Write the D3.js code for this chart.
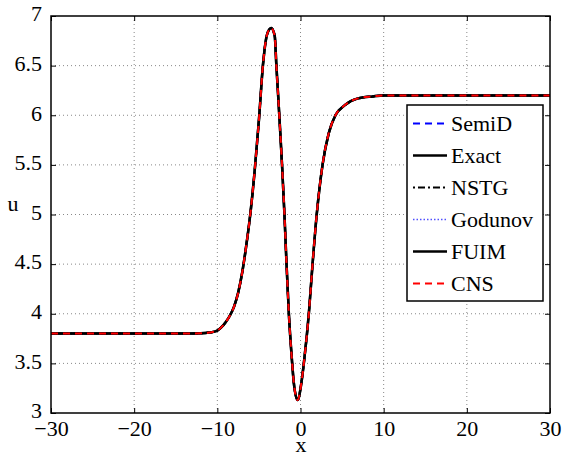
<!DOCTYPE html>
<html><head><meta charset="utf-8">
<script src="https://cdn.jsdelivr.net/npm/d3@7"></script>
<style>body{margin:0;background:#fff}svg{display:block}svg text{font-family:"Liberation Serif","Times New Roman",serif !important}</style>
</head><body>
<svg id="chart" width="564" height="458"></svg>
<script>
// ---- data ----
const xData = [-30,-20,-14,-12,-11,-10,-9.5,-9,-8.5,-8,-7.5,-7,-6.5,-6,-5.5,-5,-4.5,-4.0,-3.52,-3.1,-2.9,-2.55,-2.22,-1.93,-1.68,-1.4,-1.0,-0.8,-0.35,0.1,0.4,1.0,1.45,1.95,2.65,3.4,4.2,5.3,6.9,8.7,10,12,30];
const uData = [3.8,3.8,3.8,3.803,3.81,3.83,3.865,3.915,3.98,4.07,4.21,4.42,4.7,5.03,5.45,5.95,6.52,6.82,6.88,6.8,6.5,6.0,5.5,5.0,4.5,4.0,3.5,3.3,3.13,3.3,3.5,4.0,4.5,5.0,5.5,5.82,6.0,6.1,6.17,6.19,6.2,6.2,6.2];
const seriesNames = ["SemiD","Exact","NSTG","Godunov","FUIM","CNS"];
const seriesU = {SemiD:uData, Exact:uData, NSTG:uData, Godunov:uData, FUIM:uData, CNS:uData};
const xTicks = [-30,-20,-10,0,10,20,30];
const yTicks = [3,3.5,4,4.5,5,5.5,6,6.5,7];

// ---- styles ----
const styles = {
  SemiD:{color:"#0000ff",dash:"7,5",w:2},
  Exact:{color:"#000",dash:null,w:2.5},
  NSTG:{color:"#000",dash:"2,3,7,3",w:2},
  Godunov:{color:"#5050ff",dash:"1.5,2",w:1.5},
  FUIM:{color:"#000",dash:null,w:2.5},
  CNS:{color:"#ff0000",dash:"7,5",w:2}
};

const L=51,R=550,T=16,B=413;
const FS=22;
const svg=d3.select("#chart");
const x=d3.scaleLinear().domain([-30,30]).range([L,R]);
const y=d3.scaleLinear().domain([3,7]).range([B,T]);

// grid
const g=svg.append("g");
g.selectAll("line.gx").data(xTicks.filter(d=>d>-30&&d<30)).enter().append("line")
 .attr("x1",d=>x(d)).attr("x2",d=>x(d)).attr("y1",T).attr("y2",B)
 .attr("stroke","#888").attr("stroke-width",1).attr("stroke-dasharray","1,3");
g.selectAll("line.gy").data(yTicks.filter(d=>d>3&&d<7)).enter().append("line")
 .attr("y1",d=>y(d)).attr("y2",d=>y(d)).attr("x1",L).attr("x2",R)
 .attr("stroke","#888").attr("stroke-width",1).attr("stroke-dasharray","1,3");

// axes (inward ticks on all sides)
const ax=svg.append("g");
ax.append("g").attr("transform",`translate(0,${B})`).call(d3.axisBottom(x).tickValues(xTicks).tickSize(-5).tickPadding(7).tickFormat(d=>d<0?"\u2212"+Math.abs(d):d));
ax.append("g").attr("transform",`translate(0,${T})`).call(d3.axisTop(x).tickValues(xTicks).tickSize(-5).tickFormat(""));
const ya=ax.append("g").attr("transform",`translate(${L},0)`).call(d3.axisLeft(y).tickValues(yTicks).tickSize(-5).tickPadding(9).tickFormat(d=>d));
ya.selectAll("text").attr("dy","0.22em");
ax.append("g").attr("transform",`translate(${R},0)`).call(d3.axisRight(y).tickValues(yTicks).tickSize(-5).tickFormat(""));
ax.selectAll(".domain").remove();
ax.selectAll(".tick line").attr("stroke","#000").attr("stroke-width",1);
ax.selectAll("g").attr("font-family",null).attr("font-size",null);
ax.selectAll("text").attr("font-size",FS).attr("fill","#000");

// lines
const line=d3.line().x((d,i)=>x(xData[i])).y(d=>y(d)).curve(d3.curveMonotoneX);
svg.append("clipPath").attr("id","clp").append("rect").attr("x",L).attr("y",T-3).attr("width",R-L).attr("height",B-T+6);
const lg=svg.append("g").attr("clip-path","url(#clp)");
seriesNames.forEach(n=>{
  const s=styles[n];
  lg.append("path").attr("d",line(seriesU[n])).attr("fill","none").attr("stroke",s.color)
    .attr("stroke-width",s.w).attr("stroke-dasharray",s.dash).attr("stroke-linejoin","round");
});
svg.append("rect").attr("x",L).attr("y",T).attr("width",R-L).attr("height",B-T).attr("fill","none").attr("stroke","#000").attr("stroke-width",1.5);

// legend
const leg=svg.append("g");
leg.append("rect").attr("x",407).attr("y",105).attr("width",136).attr("height",196).attr("fill","#fff").attr("stroke","#000").attr("stroke-width",1.5);
seriesNames.forEach((n,i)=>{
  const s=styles[n];const cy=123.5+i*32;
  leg.append("line").attr("x1",413).attr("x2",447).attr("y1",cy).attr("y2",cy).attr("stroke",s.color).attr("stroke-width",s.w).attr("stroke-dasharray",s.dash);
  leg.append("text").attr("x",451).attr("y",cy+7.5).attr("font-size",FS).text(n);
});

// axis labels
svg.append("text").attr("x",301).attr("y",452).attr("text-anchor","middle").attr("font-size",FS).text("x");
svg.append("text").attr("x",13).attr("y",211).attr("text-anchor","middle").attr("font-size",FS).text("u");
</script>
</body></html>
